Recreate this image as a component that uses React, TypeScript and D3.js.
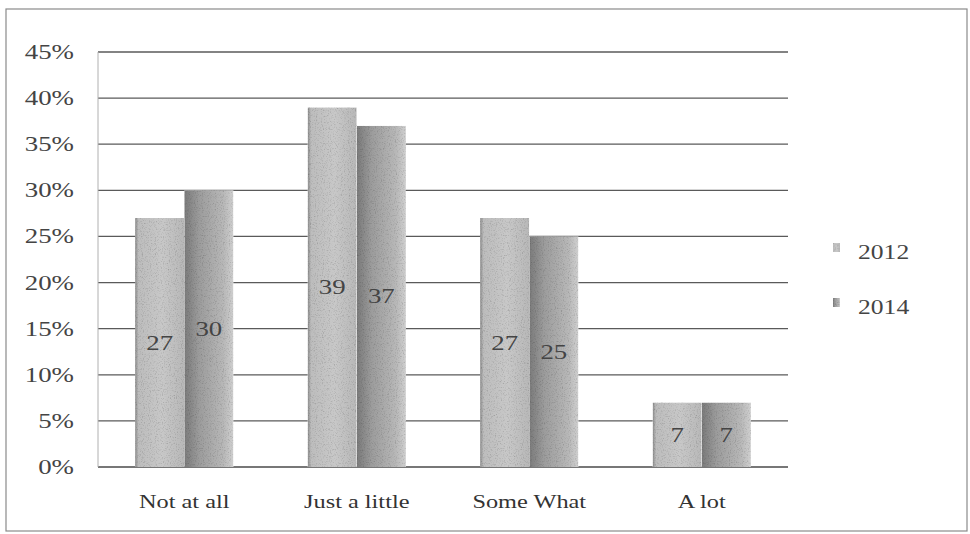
import React from "react";
import * as d3 from "d3";

const categories = ["Not at all", "Just a little", "Some What", "A lot"];
const seriesNames = ["2012", "2014"];
const values2012 = [27, 39, 27, 7];
const values2014 = [30, 37, 25, 7];
const yTicks = [0, 5, 10, 15, 20, 25, 30, 35, 40, 45];

const W = 970;
const H = 534;
const plot = { left: 98, right: 788, top: 52, bottom: 467 };
const FONT = "'Liberation Serif', 'Times New Roman', serif";
const SX = 1.28;

export default function App() {
  const x0 = d3.scaleBand<string>().domain(categories).range([plot.left, plot.right]).padding(0);
  const bw = x0.bandwidth();
  const x1 = d3
    .scaleBand<string>()
    .domain(seriesNames)
    .range([bw * 0.215, bw * 0.785])
    .padding(0);
  const y = d3.scaleLinear().domain([0, 45]).range([plot.bottom, plot.top]);

  const series = [
    { name: "2012", values: values2012, fill: "url(#g2012)" },
    { name: "2014", values: values2014, fill: "url(#g2014)" },
  ];

  const stretch = (x: number, yy: number) => `translate(${x},${yy}) scale(${SX},1)`;

  return (
    <svg
      width={W}
      height={H}
      viewBox={`0 0 ${W} ${H}`}
      style={{ position: "absolute", left: 0, top: 0, background: "#fff" }}
    >
      <defs>
        <linearGradient id="g2012" x1="0" x2="1" y1="0" y2="0">
          <stop offset="0" stopColor="#8a8a8a" />
          <stop offset="0.07" stopColor="#bdbdbd" />
          <stop offset="0.55" stopColor="#c8c8c8" />
          <stop offset="1" stopColor="#b8b8b8" />
        </linearGradient>
        <linearGradient id="g2014" x1="0" x2="1" y1="0" y2="0">
          <stop offset="0" stopColor="#7a7a7a" />
          <stop offset="0.3" stopColor="#9c9c9c" />
          <stop offset="0.8" stopColor="#b8b8b8" />
          <stop offset="1" stopColor="#d0d0d0" />
        </linearGradient>
        <filter id="grain" x="0" y="0" width="1" height="1" filterUnits="objectBoundingBox">
          <feTurbulence type="fractalNoise" baseFrequency="0.85" numOctaves="2" seed="3" result="noise" />
          <feColorMatrix
            in="noise"
            type="matrix"
            values="0.9 0 0 0 0.55  0.9 0 0 0 0.55  0.9 0 0 0 0.55  0 0 0 0 1"
            result="grey"
          />
          <feBlend in="SourceGraphic" in2="grey" mode="multiply" result="blend" />
          <feComposite in="blend" in2="SourceGraphic" operator="in" />
        </filter>
      </defs>

      {/* outer frame */}
      <rect x={6} y={9} width={961} height={522} fill="none" stroke="#8a8a8a" strokeWidth={1.2} />

      {/* gridlines */}
      {yTicks.map((t) => (
        <line
          key={"g" + t}
          x1={plot.left}
          x2={plot.right}
          y1={y(t)}
          y2={y(t)}
          stroke={t === 0 ? "#4a4a4a" : "#5a5a5a"}
          strokeWidth={1.3}
        />
      ))}
      <line x1={plot.left} x2={plot.left} y1={plot.top} y2={plot.bottom} stroke="#b0b0b0" strokeWidth={1} />

      {/* y tick labels */}
      {yTicks.map((t) => (
        <text
          key={"t" + t}
          transform={stretch(74, y(t) + 7)}
          textAnchor="end"
          fontFamily={FONT}
          fontSize={21}
          fill="#444"
        >
          {t}%
        </text>
      ))}

      {/* bars */}
      {series.map((s) =>
        categories.map((c, i) => {
          const bx = (x0(c) ?? 0) + (x1(s.name) ?? 0);
          const by = y(s.values[i]);
          return (
            <rect
              key={s.name + c}
              x={bx}
              y={by}
              width={x1.bandwidth()}
              height={plot.bottom - by}
              fill={s.fill}
              filter="url(#grain)"
            />
          );
        })
      )}

      {/* data labels */}
      {series.map((s) =>
        categories.map((c, i) => {
          const cx = (x0(c) ?? 0) + (x1(s.name) ?? 0) + x1.bandwidth() / 2;
          const cy = (y(s.values[i]) + plot.bottom) / 2;
          return (
            <text
              key={"l" + s.name + c}
              transform={stretch(cx, cy + 7)}
              textAnchor="middle"
              fontFamily={FONT}
              fontSize={21}
              fill="#444"
            >
              {s.values[i]}
            </text>
          );
        })
      )}

      {/* x labels */}
      {categories.map((c) => (
        <text
          key={"x" + c}
          transform={stretch((x0(c) ?? 0) + bw / 2, 508)}
          textAnchor="middle"
          fontFamily={FONT}
          fontSize={19}
          fill="#333"
        >
          {c}
        </text>
      ))}

      {/* legend */}
      {series.map((s, i) => {
        const ly = 252 + i * 55;
        return (
          <g key={"lg" + s.name}>
            <rect x={833} y={ly - 9} width={7} height={9} fill={s.fill} filter="url(#grain)" />
            <text transform={stretch(858, ly + 7)} fontFamily={FONT} fontSize={20} fill="#444">
              {s.name}
            </text>
          </g>
        );
      })}
    </svg>
  );
}
